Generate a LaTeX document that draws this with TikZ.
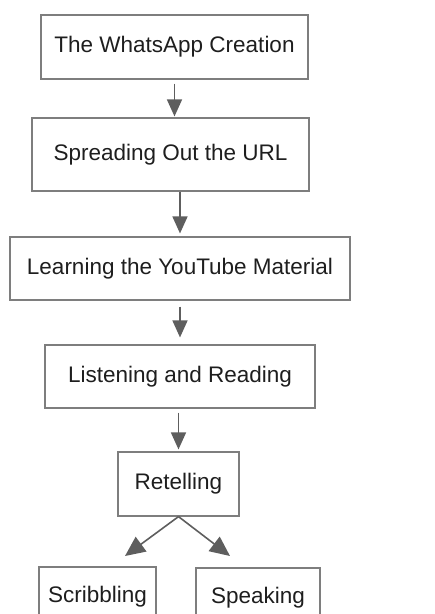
\documentclass[tikz,border=0pt]{standalone}
\usepackage{fontspec}
\setmainfont{Liberation Sans}
\usetikzlibrary{arrows.meta}
\definecolor{boxgray}{HTML}{7E7E7E}
\definecolor{arrowgray}{HTML}{5E5E5E}
\definecolor{textgray}{HTML}{1E1E1E}
\begin{document}
\begin{tikzpicture}[x=1pt,y=-1pt]
\tikzstyle{every node}+=[inner sep=0pt]
\tikzstyle{stage}=[draw=boxgray, line width=1.2pt, text=textgray, font=\fontsize{22.5}{26}\selectfont]
\tikzstyle{flow}=[draw=arrowgray, line width=1.6pt, -{Triangle[length=17pt,width=15pt]}]
\useasboundingbox (0,0) rectangle (435,614);
\clip (0,0) rectangle (435,614);
% stages
\node [stage, minimum width=267pt, minimum height=64pt] (whatsapp) at (174.5,47) {The WhatsApp Creation};
\node [stage, minimum width=277pt, minimum height=73pt] (url) at (170.5,154.5) {Spreading Out the URL};
\node [stage, minimum width=340pt, minimum height=63pt] (youtube) at (180,268.5) {Learning the YouTube Material};
\node [stage, minimum width=270pt, minimum height=63pt] (listen) at (180,376.5) {Listening and Reading};
\node [stage, minimum width=121pt, minimum height=64pt] (retell) at (178.5,484) {Retelling};
\node [stage, minimum width=117pt, minimum height=60pt] (scribble) at (97.5,597) {Scribbling};
\node [stage, minimum width=124pt, minimum height=60pt] (speak) at (258,598) {Speaking};
\coordinate (scribtip) at (125,556);
\coordinate (speaktip) at (230,556);
% arrows
\draw [flow, shorten <=4pt, shorten >=1pt] (whatsapp.south) -- (whatsapp.south |- url.north);
\draw [flow, shorten >=3pt] (youtube.north |- url.south) -- (youtube.north);
\draw [flow, shorten <=6pt, shorten >=7pt] (youtube.south) -- (listen.north);
\draw [flow, shorten <=4pt, shorten >=2pt] (retell.north |- listen.south) -- (retell.north);
\draw [flow, -{Triangle[length=20pt,width=18pt]}] (retell.south) -- (scribtip);
\draw [flow, -{Triangle[length=20pt,width=18pt]}] (retell.south) -- (speaktip);
\end{tikzpicture}
\end{document}
